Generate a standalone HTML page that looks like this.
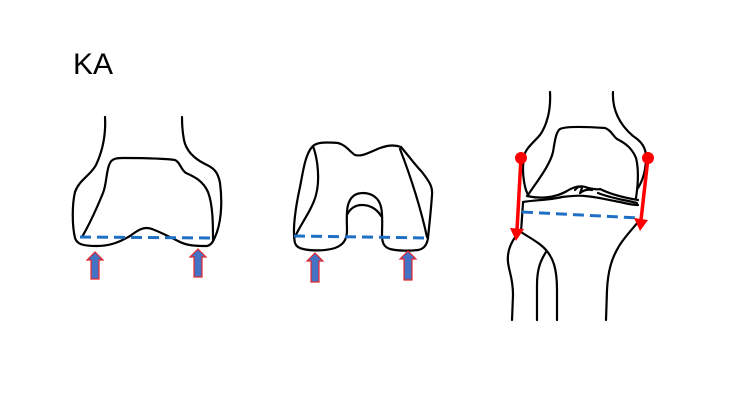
<!DOCTYPE html>
<html><head><meta charset="utf-8"><style>html,body{margin:0;padding:0;background:#fff;}svg{display:block}</style></head>
<body>
<svg width="740" height="400" viewBox="0 0 740 400" xmlns="http://www.w3.org/2000/svg">
<rect width="740" height="400" fill="#fff"/>
<text x="73" y="74" font-family="Liberation Sans, sans-serif" font-size="30" fill="#000">KA</text>
<g fill="none" stroke="#000" stroke-width="2.2" stroke-linejoin="round" stroke-linecap="round">
<path d="M105,117 C106,135 103,150 96,165 C90,176 79,180 75,192 C72,205 72,225 75,238 C77,244 82,246 97,246 C110,246 120,242 130,236 C138,230 144,226 152,229 C160,232 168,236 178,241 C187,246 197,246 207,246 C212,245 214,240 217,232 C222,217 222,198 220,183 C218,172 214,168 205,164 C193,158 186,150 184,140 C182,130 182,122 182,117"/>
<path d="M82,237 C92,220 98,205 103,193 C107,183 106,170 110,163 C112,159 116,158 122,158 C140,158 160,158 175,160 C180,162 181,170 186,173 C195,177 203,181 208,192 C213,205 213,225 213,240"/>
<path d="M295,243 C292,230 296,205 300,187 C303,172 305,155 312,147 C316,142 325,142 338,143 C346,145 350,152 355,155 C362,157 370,152 380,148 C386,146 393,144 401,147 C408,155 415,165 422,172 C428,180 433,186 432,195 C431,210 429,228 428,238 C427,245 424,249 418,250 C410,251 398,251 390,249 C384,247 382,243 382,235 C382,225 383,215 381,207 C379,198 372,193 363,193 C354,193 350,198 348,205 C346,213 347,222 347,230 C347,240 343,245 335,248 C325,251 312,251 303,249 C298,248 296,246 295,243"/>
<path d="M313,146 C318,160 320,180 316,195 C312,210 300,225 295,237"/>
<path d="M400,149 C410,175 420,205 427,237"/>
<path d="M347,215 C350,208 356,205 362,205 C370,205 377,209 381,216"/>
<path d="M550,92 C551,110 547,125 540,135 C533,143 526,148 524,156 C522,168 523,185 528,195"/>
<path d="M613,92 C612,110 620,125 633,136 C642,142 646,148 646,157 C646,170 643,180 638,188"/>
<path d="M528,195 C538,180 550,165 553,152 C555,140 556,132 560,129 C566,126 590,127 605,128 C611,130 613,136 617,139 C625,143 632,148 636,158 C639,170 638,185 636,198"/>
<path d="M527,196 C540,199 555,198 567,191 C575,186 582,185 588,188 C593,189 598,190 600,189 C608,193 620,197 638,200"/>
<path d="M575,190 C578,186 581,186 582,188 L580,193 C584,190 588,189 592,190"/>
<path d="M598,193 C610,198 625,200 637,203"/>
<path d="M523,202 C535,200 550,200 562,197 C570,196 578,195 585,196 C598,197 608,200 620,202 C628,204 633,205 638,205"/>
<path d="M523,203 L521,232 C530,238 540,243 546,250 C553,258 557,268 557,290 L557,320"/>
<path d="M638,222 C630,232 622,240 618,248 C612,258 608,270 607,290 L606,320"/>
<path d="M516,236 C510,244 507,252 508,262 C509,272 513,278 513,295 L512,320"/>
<path d="M546,252 C541,260 537,268 537,285 L537,320"/>
</g>
<g stroke="#1f6fc5" stroke-width="3" stroke-dasharray="11,6" fill="none">
<line x1="80" y1="237" x2="214" y2="238"/>
<line x1="294" y1="236" x2="428" y2="238"/>
<line x1="522" y1="212" x2="639" y2="218"/>
</g>
<g fill="#4472c4" stroke="#e8262e" stroke-width="1.2">
<path d="M95,252 L103,260 L99,260 L99,279 L91,279 L91,260 L87,260 Z"/>
<path d="M198,249 L206,257 L202,257 L202,277 L194,277 L194,257 L190,257 Z"/>
<path d="M315,253 L323,261 L319,261 L319,282 L311,282 L311,261 L307,261 Z"/>
<path d="M408,251 L416,259 L412,259 L412,280 L404,280 L404,259 L400,259 Z"/>
</g>
<g fill="#f00">
<circle cx="521" cy="158" r="6"/>
<circle cx="648" cy="158" r="6"/>
</g>
<g stroke="#f00" stroke-width="3.5">
<line x1="521" y1="158" x2="517" y2="230"/>
<line x1="648" y1="158" x2="641" y2="220"/>
</g>
<g fill="#f00">
<path d="M510,228 L524,229 L516,241 Z"/>
<path d="M634,218 L648,220 L640,231 Z"/>
</g>
</svg>
</body></html>
